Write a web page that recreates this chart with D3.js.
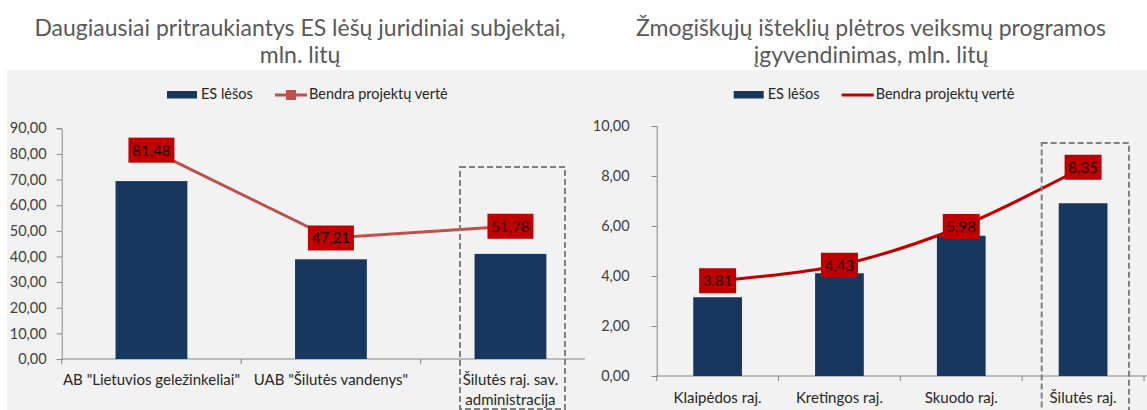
<!DOCTYPE html>
<html>
<head>
<meta charset="utf-8">
<script src="https://cdn.jsdelivr.net/npm/d3@7"></script>
<style>
	body { margin: 0; background: #fff; }
	text { font-family: Lato, "Noto Sans", sans-serif; }
</style>
</head>
<body>
<script>
// left chart data
var leftCategories = ['AB "Lietuvios geležinkeliai"', 'UAB "Šilutės vandenys"', "Šilutės raj. sav.|administracija"];
var leftEs = [69.4, 38.9, 41.0];
var leftTotal = [81.48, 47.21, 51.78];
var leftTicks = [0, 10, 20, 30, 40, 50, 60, 70, 80, 90];

// right chart data
var rightCategories = ["Klaipėdos raj.", "Kretingos raj.", "Skuodo raj.", "Šilutės raj."];
var rightEs = [3.15, 4.11, 5.61, 6.91];
var rightTotal = [3.81, 4.43, 5.98, 8.35];
var rightTicks = [0, 2, 4, 6, 8, 10];

var seriesNames = ["ES lėšos", "Bendra projektų vertė"];
var fmt = function(d){ return d.toFixed(2).replace(".", ","); };

window.onload = function(){
	var svg = d3.select("body").append("svg")
		.attr("width", 1147)
		.attr("height", 410);

	svg.append("rect")
		.attr("x", 7).attr("y", 70)
		.attr("width", 1140).attr("height", 340)
		.attr("fill", "#f2f2f2");

	function drawChart(o){
		var g = svg.append("g");

		// title
		g.selectAll(".title")
			.data(o.title)
			.enter()
			.append("text")
			.attr("x", o.titleX)
			.attr("y", function(d, i){ return 36 + i * 27; })
			.attr("text-anchor", "middle")
			.attr("font-size", 23)
			.attr("fill", "#595959")
			.text(function(d){ return d; });

		var x = d3.scaleBand()
			.domain(o.categories)
			.range([o.x0, o.x1])
			.paddingInner(0.6)
			.paddingOuter(0.3);
		var y = d3.scaleLinear()
			.domain([0, o.max])
			.range([o.yBottom, o.yTop]);

		// y axis
		var yAxis = g.append("g")
			.attr("transform", "translate(" + o.x0 + ",0)")
			.call(d3.axisLeft(y).tickValues(o.ticks).tickSize(5).tickPadding(o.labelGap).tickFormat(fmt));
		yAxis.select(".domain").attr("stroke", "#868686");
		yAxis.selectAll(".tick line").attr("stroke", "#868686");
		yAxis.selectAll(".tick text")
			.attr("font-size", 14.5)
			.attr("fill", "#404040")
			.attr("font-family", "Lato");

		// x axis line and ticks at band edges
		g.append("line")
			.attr("x1", o.x0).attr("x2", o.axisEnd)
			.attr("y1", y(0)).attr("y2", y(0))
			.attr("stroke", "#868686");
		var step = x.step();
		g.selectAll(".xtick")
			.data(d3.range(o.xTickCount))
			.enter()
			.append("line")
			.attr("x1", function(d){ return o.x0 + d * step; })
			.attr("x2", function(d){ return o.x0 + d * step; })
			.attr("y1", y(0)).attr("y2", y(0) + 5)
			.attr("stroke", "#868686");

		// category labels
		var labels = g.selectAll(".cat")
			.data(o.categories)
			.enter()
			.append("text")
			.attr("x", function(d){ return x(d) + x.bandwidth() / 2; })
			.attr("y", o.catY)
			.attr("text-anchor", "middle")
			.attr("font-size", 15)
			.attr("fill", "#262626");
		labels.each(function(d){
			var parts = d.split("|");
			var t = d3.select(this);
			parts.forEach(function(p, i){
				t.append("tspan")
					.attr("x", x(d) + x.bandwidth() / 2)
					.attr("dy", i === 0 ? 0 : 20)
					.text(p);
			});
		});

		// bars
		g.selectAll(".bar")
			.data(o.es)
			.enter()
			.append("rect")
			.attr("x", function(d, i){ return x(o.categories[i]); })
			.attr("y", function(d){ return y(d); })
			.attr("width", x.bandwidth())
			.attr("height", function(d){ return y(0) - y(d); })
			.attr("fill", "#17375e");

		// line
		var line = d3.line()
			.x(function(d, i){ return x(o.categories[i]) + x.bandwidth() / 2; })
			.y(function(d){ return y(d); })
			.curve(o.curve);
		g.append("path")
			.attr("d", line(o.total))
			.attr("fill", "none")
			.attr("stroke", o.lineColor)
			.attr("stroke-width", 3);

		// value labels
		var lab = g.selectAll(".lab")
			.data(o.total)
			.enter()
			.append("g")
			.attr("transform", function(d, i){
				return "translate(" + (x(o.categories[i]) + x.bandwidth() / 2) + "," + y(d) + ")";
			});
		lab.append("rect")
			.attr("x", -o.boxW / 2).attr("y", -12.5)
			.attr("width", o.boxW).attr("height", 25)
			.attr("fill", "#c00000");
		lab.append("text")
			.attr("text-anchor", "middle")
			.attr("y", 5.5)
			.attr("font-size", 15)
			.attr("fill", "#1a0000")
			.text(fmt);

		// highlight box
		g.append("rect")
			.attr("x", o.dash[0]).attr("y", o.dash[1])
			.attr("width", o.dash[2]).attr("height", o.dash[3])
			.attr("fill", "none")
			.attr("stroke", "#808080")
			.attr("stroke-width", 2)
			.attr("stroke-dasharray", "6,3");

		// legend
		g.append("rect")
			.attr("x", o.legX).attr("y", 91)
			.attr("width", 30).attr("height", 7.5)
			.attr("fill", "#17375e");
		g.append("text")
			.attr("x", o.legX + 34).attr("y", 99)
			.attr("font-size", 14.5)
			.attr("fill", "#262626")
			.text(seriesNames[0]);
		g.append("line")
			.attr("x1", o.legX + 108).attr("x2", o.legX + 140)
			.attr("y1", 95).attr("y2", 95)
			.attr("stroke", o.lineColor)
			.attr("stroke-width", 3);
		if (o.marker) {
			g.append("rect")
				.attr("x", o.legX + 119).attr("y", 90)
				.attr("width", 10).attr("height", 10)
				.attr("fill", o.lineColor);
		}
		g.append("text")
			.attr("x", o.legX + 142).attr("y", 99)
			.attr("font-size", 14.5)
			.attr("fill", "#262626")
			.text(seriesNames[1]);
	}

	drawChart({
		title: ["Daugiausiai pritraukiantys ES lėšų juridiniai subjektai,", "mln. litų"],
		titleX: 300,
		categories: leftCategories,
		es: leftEs,
		total: leftTotal,
		ticks: leftTicks,
		max: 90,
		x0: 61.7, x1: 600.2, axisEnd: 585, xTickCount: 3,
		yBottom: 359, yTop: 128.3,
		labelGap: 10,
		catY: 385,
		curve: d3.curveLinear,
		lineColor: "#c0504d",
		boxW: 46,
		dash: [460, 167, 105, 242],
		legX: 167,
		marker: true
	});

	drawChart({
		title: ["Žmogiškųjų išteklių plėtros veiksmų programos", "įgyvendinimas, mln. litų"],
		titleX: 871,
		categories: rightCategories,
		es: rightEs,
		total: rightTotal,
		ticks: rightTicks,
		max: 10,
		x0: 656.7, x1: 1144, axisEnd: 1147, xTickCount: 5,
		yBottom: 376, yTop: 126,
		labelGap: 22,
		catY: 403,
		curve: d3.curveCatmullRom,
		lineColor: "#c00000",
		boxW: 37,
		dash: [1041.7, 143, 87.3, 270],
		legX: 733.7,
		marker: false
	});
};
</script>
</body>
</html>
